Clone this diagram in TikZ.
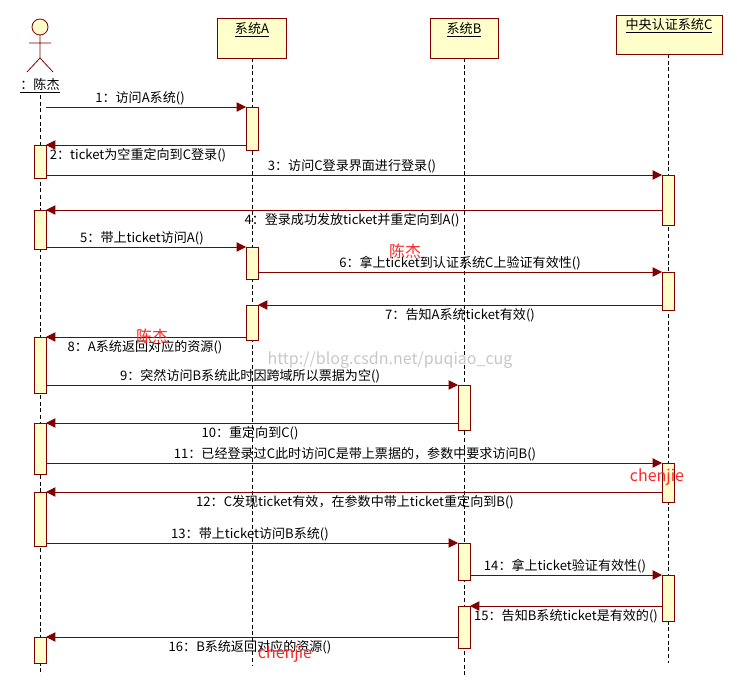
\documentclass[tikz,border=0pt]{standalone}
\usepackage{fontspec}
\setmainfont{Noto Sans CJK SC}
\usetikzlibrary{arrows.meta}
\definecolor{ln}{RGB}{128,0,0}
\definecolor{fillc}{RGB}{255,255,204}
\tikzset{
 life/.style={densely dashed,black,line width=0.6pt},
 act/.style={draw=ln,fill=fillc,line width=0.6pt},
 obj/.style={draw=ln,fill=fillc,line width=0.6pt},
 msgline/.style={draw=ln,line width=0.6pt,-{Triangle[length=7pt,width=7pt]}},
 lbl/.style={font=\fontsize{9.8}{11}\selectfont,inner sep=1pt},
 wm/.style={font=\fontsize{12}{14}\selectfont,text=red!85!white},
}
\begin{document}
\begin{tikzpicture}[x=0.75pt,y=-0.75pt]
\useasboundingbox (0,0) rectangle (737,698);
\def\xP{40}\def\xA{252}\def\xB{464}\def\xC{668}
% lifelines
\draw[life] (\xP,95) -- (\xP,675);
\draw[life] (\xA,58) -- (\xA,665);
\draw[life] (\xB,58) -- (\xB,675);
\draw[life] (\xC,54) -- (\xC,663);
% objects
\draw[obj] (217,18) rectangle (286,58); \node[lbl] (oa) at (252,30) {\underline{系统A}};
\draw[obj] (430,18) rectangle (498,58); \node[lbl] (ob) at (464,30) {\underline{系统B}};
\draw[obj] (616,15) rectangle (722,54); \node[lbl] (oc) at (669,26) {\underline{中央认证系统C}};
% actor
\draw[ln,fill=fillc,line width=0.6pt] (40,27) circle (8);
\draw[ln,line width=0.6pt] (40,35) -- (40,58) (29,43) -- (51,43) (40,58) -- (27,72) (40,58) -- (53,72);
\node[lbl] (actor) at (40,86) {\underline{：陈杰}};
% activations
\foreach \x/\a/\b in {\xP/145/178,\xP/210/249,\xP/337/393,\xP/423/474,\xP/492/546,\xP/637/663,
  \xA/107/150,\xA/247/279,\xA/305/340,
  \xB/385/430,\xB/543/580,\xB/606/648,
  \xC/175/225,\xC/272/310,\xC/463/502,\xC/575/621}
  \draw[act] (\x-6,\a) rectangle (\x+6,\b);
% messages
\newcommand\msgR[5]{\draw[msgline] (#2+6,#1) -- (#3-6,#1); \node[lbl] at (#4,#1-9) {#5};}
\newcommand\msgL[5]{\draw[msgline] (#2-6,#1) -- (#3+6,#1); \node[lbl] at (#4,#1+10) {#5};}
\msgR{107}{\xP}{\xA}{140}{1：访问A系统()}
\msgL{145}{\xA}{\xP}{138}{2：ticket为空重定向到C登录()}
\msgR{175}{\xP}{\xC}{352}{3：访问C登录界面进行登录()}
\msgL{210}{\xC}{\xP}{352}{4：登录成功发放ticket并重定向到A()}
\msgR{247}{\xP}{\xA}{142}{5：带上ticket访问A()}
\msgR{272}{\xA}{\xC}{460}{6：拿上ticket到认证系统C上验证有效性()}
\msgL{305}{\xC}{\xA}{460}{7：告知A系统ticket有效()}
\msgL{337}{\xA}{\xP}{145}{8：A系统返回对应的资源()}
\msgR{385}{\xP}{\xB}{250}{9：突然访问B系统此时因跨域所以票据为空()}
\msgL{423}{\xB}{\xP}{250}{10：重定向到C()}
\msgR{463}{\xP}{\xC}{355}{11：已经登录过C此时访问C是带上票据的，参数中要求访问B()}
\msgL{492}{\xC}{\xP}{355}{12：C发现ticket有效，在参数中带上ticket重定向到B()}
\msgR{543}{\xP}{\xB}{250}{13：带上ticket访问B系统()}
\msgR{575}{\xB}{\xC}{565}{14：拿上ticket验证有效性()}
\msgL{606}{\xC}{\xB}{566}{15：告知B系统ticket是有效的()}
\msgL{637}{\xB}{\xP}{250}{16：B系统返回对应的资源()}
% watermarks
\node[wm] (w1) at (405,251) {陈杰};
\node[wm] (w2) at (152,336) {陈杰};
\node[font=\fontsize{12}{14}\selectfont,text=black!22] (w3) at (390,360) {http://blog.csdn.net/puqiao\_cug};
\node[wm] (w4) at (657,477) {chenjie};
\node[wm] (w5) at (285,654) {chenjie};
\end{tikzpicture}
\end{document}
